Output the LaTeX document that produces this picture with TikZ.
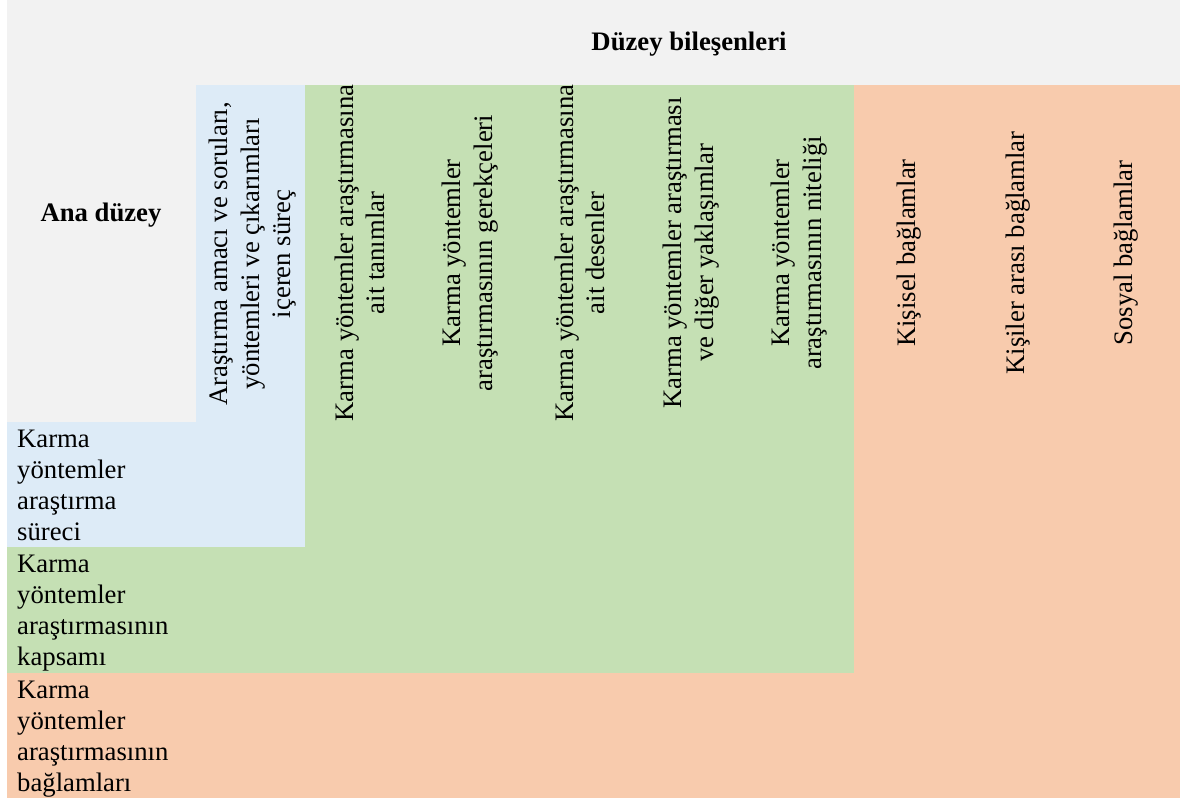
\documentclass[tikz,border=0pt]{standalone}
\usepackage{fontspec}
\setmainfont{Liberation Serif}
\definecolor{hdrgray}{HTML}{F2F2F2}
\definecolor{procblue}{HTML}{DDEBF7}
\definecolor{scopegreen}{HTML}{C5E0B4}
\definecolor{ctxorange}{HTML}{F8CBAD}
\begin{document}
\begin{tikzpicture}[x=1pt,y=-1pt,
  cell/.style={inner sep=0pt, text=black},
  colhead/.style={cell, rotate=90, align=center, font=\fontsize{26.7}{31.5}\selectfont},
  rowhead/.style={cell, anchor=north west, align=left, font=\fontsize{26.7}{31}\selectfont},
  heading/.style={cell, anchor=base, font=\fontsize{26.7}{31}\selectfont\bfseries}]
\useasboundingbox (0,0) rectangle (1180,798);
\fill[white] (0,0) rectangle (1180,798);
% header band and corner
\fill[hdrgray] (7,0) rectangle (1180,85);
\fill[hdrgray] (7,85) rectangle (196,422);
% process level (blue)
\fill[procblue] (196,85) rectangle (305,547);
\fill[procblue] (7,422) rectangle (196,547);
% scope level (green)
\fill[scopegreen] (305,85) rectangle (854,673);
\fill[scopegreen] (7,547) rectangle (305,673);
% context level (orange)
\fill[ctxorange] (854,85) rectangle (1180,798);
\fill[ctxorange] (7,673) rectangle (854,798);

\node[heading] (duzey) at (689,50) {Düzey bileşenleri};
\node[heading] (ana) at (101,221) {Ana düzey};

% component columns
\node[colhead] (c1) at (253,254) {Araştırma amacı ve soruları,\\yöntemleri ve çıkarımları\\içeren süreç};
\node[colhead] (c2) at (360,253) {Karma yöntemler araştırmasına\\ait tanımlar};
\node[colhead] (c3) at (470,253) {Karma yöntemler\\araştırmasının gerekçeleri};
\node[colhead] (c4) at (580,253) {Karma yöntemler araştırmasına\\ait desenler};
\node[colhead] (c5) at (691,253) {Karma yöntemler araştırması\\ve diğer yaklaşımlar};
\node[colhead] (c6) at (799,253) {Karma yöntemler\\araştırmasının niteliği};
\node[colhead] (c7) at (909,253) {Kişisel bağlamlar};
\node[colhead] (c8) at (1018,253) {Kişiler arası bağlamlar};
\node[colhead] (c9) at (1126,253) {Sosyal bağlamlar};

% main levels
\node[rowhead] (r1) at (17,426) {\strut Karma\\yöntemler\\araştırma\\süreci};
\node[rowhead] (r2) at (17,551) {\strut Karma\\yöntemler\\araştırmasının\\kapsamı};
\node[rowhead] (r3) at (17,677) {\strut Karma\\yöntemler\\araştırmasının\\bağlamları};
\end{tikzpicture}
\end{document}
